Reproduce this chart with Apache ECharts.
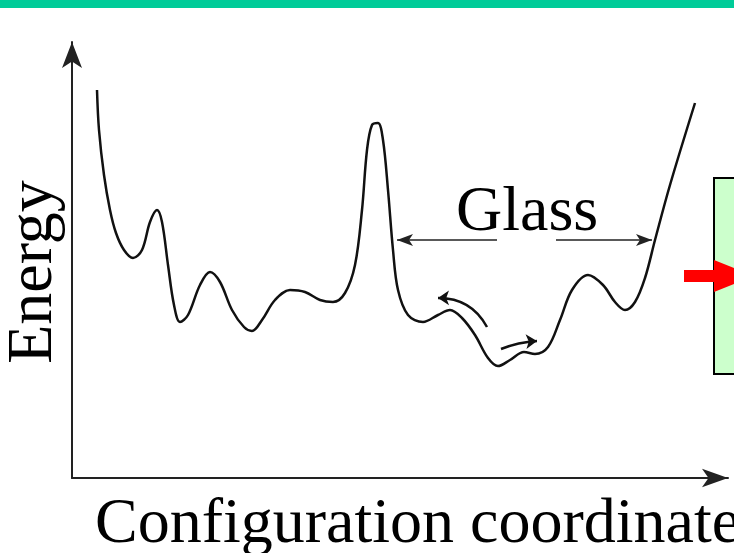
<!DOCTYPE html>
<html>
<head>
<meta charset="utf-8">
<script src="https://cdn.jsdelivr.net/npm/echarts@6/dist/echarts.min.js"></script>
<style>
  html, body { margin: 0; padding: 0; background: #fff; }
</style>
</head>
<body>
<div id="chart" style="width: 734px; height: 553px"></div>
<script>
// configuration coordinate (horizontal position) and energy
const coordX = [97, 99, 104, 110, 116, 124, 133, 142, 150, 157,
  162, 168, 174, 180, 188, 200, 210, 220, 232, 244,
  252, 262, 275, 290, 305, 320, 333, 345, 355, 362,
  367, 372, 378, 383, 388, 393, 398, 408, 423, 438,
  450, 462, 475, 488, 498, 510, 524, 535, 548, 560,
  572, 588, 603, 615, 625, 635, 645, 655, 670, 695]
const energy = [388, 348, 303, 268, 245, 228, 220, 228, 256, 268,
  256, 213, 173, 156, 163, 193, 206, 196, 168, 151,
  147, 158, 178, 188, 186, 178, 176, 185, 213, 268,
  328, 353, 355, 338, 288, 228, 188, 163, 156, 163,
  168, 160, 143, 120, 112, 118, 126, 124, 131, 158,
  188, 203, 193, 176, 168, 176, 200, 238, 293, 375]

// "Glass" span arrows: [from, to] along x at glassLevel
const glassLeft = [497, 397]
const glassRight = [556, 652]
const glassLevel = 238

// little hopping arrows inside the glass basin: [x1, e1, x2, e2]
const hopUp = [487, 151, 438, 180]
const hopDown = [501, 129, 537, 137]

const chart = echarts.init(document.getElementById('chart'))

const serif = '"Liberation Serif", "DejaVu Serif", serif'

const option = {
  animation: false,
  grid: {
    left: 72,
    right: 6,
    top: 42,
    bottom: 75,
  },
  xAxis: {
    type: 'value',
    min: 72,
    max: 728,
    axisLine: {
      show: true,
      symbol: ['none', 'arrow'],
      symbolSize: [14, 26],
      lineStyle: { color: '#222', width: 2 },
    },
    axisTick: { show: false },
    axisLabel: { show: false },
    splitLine: { show: false },
  },
  yAxis: {
    type: 'value',
    min: 0,
    max: 436,
    axisLine: {
      show: true,
      symbol: ['none', 'arrow'],
      symbolSize: [15, 26],
      lineStyle: { color: '#222', width: 2 },
    },
    axisTick: { show: false },
    axisLabel: { show: false },
    splitLine: { show: false },
  },
  series: [
    {
      name: 'energy',
      type: 'line',
      data: coordX.map(function (x, i) {
        return [x, energy[i]]
      }),
      smooth: 0.35,
      showSymbol: false,
      lineStyle: { color: '#111', width: 2.5 },
    },
    {
      name: 'glass',
      type: 'line',
      data: [],
      markLine: {
        silent: true,
        symbol: ['none', 'arrow'],
        symbolSize: [9, 16],
        label: { show: false },
        lineStyle: { color: '#222', width: 1.5, type: 'solid' },
        data: [
          [{ coord: [glassLeft[0], glassLevel] }, { coord: [glassLeft[1], glassLevel] }],
          [{ coord: [glassRight[0], glassLevel] }, { coord: [glassRight[1], glassLevel] }],
        ],
      },
    },
    {
      name: 'hops',
      type: 'lines',
      coordinateSystem: 'cartesian2d',
      silent: true,
      symbol: ['none', 'arrow'],
      symbolSize: 11,
      data: [
        {
          coords: [[hopUp[0], hopUp[1]], [hopUp[2], hopUp[3]]],
          lineStyle: { curveness: -0.3 },
        },
        {
          coords: [[hopDown[0], hopDown[1]], [hopDown[2], hopDown[3]]],
          lineStyle: { curveness: 0.08 },
        },
      ],
      lineStyle: { color: '#111', width: 2.5, opacity: 1 },
    },
  ],
  graphic: [
    {
      type: 'rect',
      shape: { x: 0, y: 0, width: 734, height: 8 },
      style: { fill: '#00cc99' },
    },
    {
      type: 'rect',
      shape: { x: 714, y: 178, width: 40, height: 196 },
      style: { fill: '#ccffcc', stroke: '#000', lineWidth: 2 },
    },
    {
      type: 'polygon',
      shape: {
        points: [[684, 270], [714, 270], [714, 260], [754, 276], [714, 292], [714, 282], [684, 282]],
      },
      style: { fill: '#ff0000' },
    },
    {
      type: 'text',
      x: 34,
      y: 272,
      rotation: Math.PI / 2,
      style: {
        text: 'Energy',
        font: '64px ' + serif,
        fill: '#000',
        textAlign: 'center',
        textVerticalAlign: 'middle',
      },
    },
    {
      type: 'text',
      x: 456,
      y: 213,
      style: {
        text: 'Glass',
        font: '64px ' + serif,
        fill: '#000',
        textAlign: 'left',
        textVerticalAlign: 'middle',
      },
    },
    {
      type: 'text',
      x: 95,
      y: 525,
      style: {
        text: 'Configuration coordinates',
        font: '64px ' + serif,
        fill: '#000',
        textAlign: 'left',
        textVerticalAlign: 'middle',
      },
    },
  ],
}

chart.setOption(option)
</script>
</body>
</html>
